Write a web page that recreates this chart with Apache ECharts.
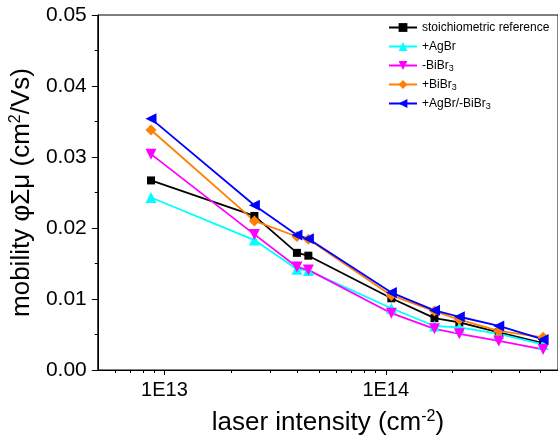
<!DOCTYPE html>
<html>
<head>
<meta charset="utf-8">
<script src="https://cdn.jsdelivr.net/npm/echarts@6/dist/echarts.min.js"></script>
<style>
  html, body { margin: 0; padding: 0; background: #fff; }
  #chart { width: 558px; height: 441px; }
</style>
</head>
<body>
<div id="chart"></div>
<script>
// Laser intensity (cm^-2) shared by every sample
const intensity = [8.7e12, 2.55e13, 3.97e13, 4.47e13, 1.06e14, 1.66e14, 2.15e14, 3.24e14, 5.14e14];

// Mobility φΣμ (cm²/Vs) per sample
const stoichiometric = [0.0267, 0.0217, 0.0165, 0.0161, 0.0101, 0.0073, 0.0067, 0.0053, 0.0038];
const plusAgBr       = [0.0243, 0.0183, 0.0142, 0.0140, 0.0087, 0.0062, 0.0060, 0.0051, 0.0036];
const minusBiBr3     = [0.0304, 0.0191, 0.0145, 0.0141, 0.0080, 0.0058, 0.0051, 0.0041, 0.0029];
const plusBiBr3      = [0.0338, 0.0210, 0.0188, 0.0184, 0.0105, 0.0083, 0.0071, 0.0055, 0.0046];
const agBrMinusBiBr3 = [0.0354, 0.0232, 0.0190, 0.0185, 0.0109, 0.0084, 0.0075, 0.0062, 0.0043];

const seriesNames = [
  'stoichiometric reference',
  '+AgBr',
  '-BiBr{sub|3}',
  '+BiBr{sub|3}',
  '+AgBr/-BiBr{sub|3}'
];

// Axis ticks
const xMajorTicks = [1e13, 1e14];
const xMinorTicks = [6e12, 7e12, 8e12, 9e12, 2e13, 3e13, 4e13, 5e13, 6e13, 7e13, 8e13, 9e13,
                     2e14, 3e14, 4e14, 5e14];
const yTicks = [0, 0.01, 0.02, 0.03, 0.04, 0.05];

const FONT = 'Liberation Sans, Arial, sans-serif';
const X_MIN = 5e12, X_MAX = 6e14;

function pairs(ys) {
  return intensity.map((x, i) => [x, ys[i]]);
}

function makeSeries(name, ys, color, symbol, rotate, size) {
  return {
    name: name,
    type: 'line',
    data: pairs(ys),
    xAxisIndex: 0,
    yAxisIndex: 0,
    symbol: symbol,
    symbolRotate: rotate,
    symbolSize: size,
    showAllSymbol: true,
    lineStyle: { color: color, width: 1.8 },
    itemStyle: { color: color },
    emphasis: { disabled: true },
    animation: false
  };
}

const chart = echarts.init(document.getElementById('chart'), null, { renderer: 'canvas' });

chart.setOption({
  backgroundColor: '#ffffff',
  animation: false,
  grid: {
    left: 93, top: 15, right: -3, bottom: 71,
    show: true, borderColor: '#000', borderWidth: 1, backgroundColor: 'transparent'
  },
  legend: {
    left: 383, top: 15,
    orient: 'vertical',
    itemWidth: 28, itemHeight: 11,
    itemGap: 4,
    textStyle: {
      fontFamily: FONT, fontSize: 12, color: '#000', lineHeight: 15,
      rich: {
        sub: { fontFamily: FONT, fontSize: 9, color: '#000', lineHeight: 15, verticalAlign: 'bottom', padding: [4, 0, 0, 0] }
      }
    },
    data: seriesNames
  },
  xAxis: [
    {
      type: 'log',
      logBase: 10,
      min: X_MIN, max: X_MAX,
      position: 'bottom',
      name: 'laser intensity (cm{sup|-2})',
      nameLocation: 'middle',
      nameGap: 39,
      nameTextStyle: {
        fontFamily: FONT, fontSize: 26, color: '#000',
        rich: { sup: { fontFamily: FONT, fontSize: 16, color: '#000', verticalAlign: 'top', padding: [0, 0, 12, 0] } }
      },
      axisLine: { show: true, onZero: false, lineStyle: { color: '#000', width: 1 } },
      axisTick: { show: true, inside: false, length: 5, lineStyle: { color: '#000' }, customValues: xMajorTicks },
      axisLabel: {
        show: true, margin: 10, fontFamily: FONT, fontSize: 20, color: '#000',
        customValues: xMajorTicks,
        formatter: v => '1E' + Math.round(Math.log10(v))
      },
      splitLine: { show: false },
      minorTick: { show: false },
      minorSplitLine: { show: false }
    },
    {
      // minor ticks at 2..9 × 10^n
      type: 'log',
      logBase: 10,
      min: X_MIN, max: X_MAX,
      position: 'bottom',
      axisLine: { show: false, onZero: false },
      axisTick: { show: true, inside: false, length: 3, lineStyle: { color: '#000' }, customValues: xMinorTicks },
      axisLabel: { show: false },
      splitLine: { show: false }
    }
  ],
  yAxis: {
    type: 'value',
    min: 0, max: 0.05, interval: 0.01,
    name: 'mobility φΣμ (cm{sup|2}/Vs)',
    nameLocation: 'middle',
    nameGap: 51,
    nameTextStyle: {
      fontFamily: FONT, fontSize: 26, color: '#000',
      rich: { sup: { fontFamily: FONT, fontSize: 16, color: '#000', verticalAlign: 'top', padding: [0, 0, 12, 0] } }
    },
    axisLine: { show: true, onZero: false, lineStyle: { color: '#000', width: 1 } },
    axisTick: { show: true, inside: false, length: 6, lineStyle: { color: '#000' } },
    minorTick: { show: true, splitNumber: 2, length: 3, lineStyle: { color: '#000' } },
    axisLabel: {
      margin: 11, fontFamily: FONT, fontSize: 21, color: '#000',
      customValues: yTicks,
      formatter: v => v.toFixed(2)
    },
    splitLine: { show: false },
    minorSplitLine: { show: false }
  },
  series: [
    makeSeries(seriesNames[0], stoichiometric, '#000000', 'rect', 0, 8),
    makeSeries(seriesNames[1], plusAgBr, '#00FFFF', 'triangle', 0, 11),
    makeSeries(seriesNames[2], minusBiBr3, '#FF00FF', 'triangle', 180, 11),
    makeSeries(seriesNames[3], plusBiBr3, '#FF8000', 'diamond', 0, 11),
    makeSeries(seriesNames[4], agBrMinusBiBr3, '#0000FF', 'triangle', 90, 11)
  ]
});
</script>
</body>
</html>
